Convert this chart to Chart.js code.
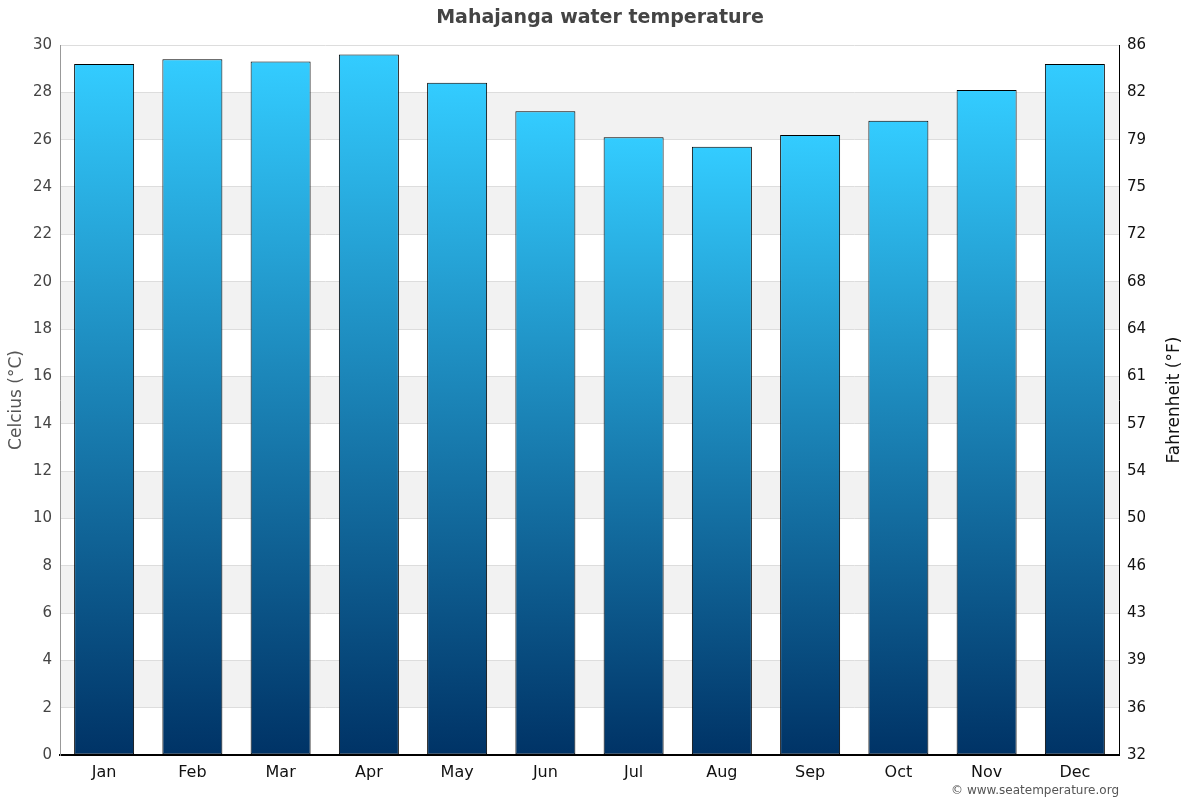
<!DOCTYPE html>
<html>
<head>
<meta charset="utf-8">
<script src="https://cdn.jsdelivr.net/npm/chart.js@4/dist/chart.umd.min.js"></script>
<style>
  html, body { margin: 0; padding: 0; background: #fff; }
  #wrap { width: 1200px; height: 800px; }
</style>
</head>
<body>
<div id="wrap"><canvas id="waterChart" width="1200" height="800"></canvas></div>
<script>
  const months = ["Jan", "Feb", "Mar", "Apr", "May", "Jun", "Jul", "Aug", "Sep", "Oct", "Nov", "Dec"];
  const waterTempC = [29.2, 29.4, 29.3, 29.6, 28.4, 27.2, 26.1, 25.7, 26.2, 26.8, 28.1, 29.2];
  const celsiusTicks = [0, 2, 4, 6, 8, 10, 12, 14, 16, 18, 20, 22, 24, 26, 28, 30];
  const fahrenheitTicks = [32, 36, 39, 43, 46, 50, 54, 57, 61, 64, 68, 72, 75, 79, 82, 86];

  const FONT = "'DejaVu Sans', sans-serif";

  // gradient per bar, bright at the top, dark navy at the base
  function barGradient(c) {
    const chart = c.chart;
    if (!chart.chartArea) return "#1a8ac4";
    const y = chart.scales.y;
    const top = y.getPixelForValue(waterTempC[c.dataIndex]);
    const bottom = y.getPixelForValue(0);
    const g = chart.ctx.createLinearGradient(0, top, 0, bottom);
    g.addColorStop(0, "#33ccff");
    g.addColorStop(1, "#003366");
    return g;
  }

  const bandsPlugin = {
    id: "bands",
    beforeDraw(chart) {
      const { ctx, chartArea, scales } = chart;
      ctx.save();
      ctx.fillStyle = "#fff";
      ctx.fillRect(0, 0, chart.width, chart.height);
      ctx.fillStyle = "#f2f2f2";
      for (let i = 1; i < celsiusTicks.length - 1; i += 2) {
        const y1 = scales.y.getPixelForValue(celsiusTicks[i]);
        const y2 = scales.y.getPixelForValue(celsiusTicks[i + 1]);
        ctx.fillRect(chartArea.left, y2, chartArea.right - chartArea.left, y1 - y2);
      }
      ctx.restore();
    },
    afterDraw(chart) {
      const { ctx, chartArea } = chart;
      ctx.save();
      // right axis title, reading bottom to top
      ctx.translate(1175, (chartArea.top + chartArea.bottom) / 2);
      ctx.rotate(-Math.PI / 2);
      ctx.font = "17px " + FONT;
      ctx.fillStyle = "#111";
      ctx.textAlign = "center";
      ctx.textBaseline = "middle";
      ctx.fillText("Fahrenheit (°F)", 0, 0);
      ctx.restore();

      ctx.save();
      ctx.font = "12px " + FONT;
      ctx.fillStyle = "#555";
      ctx.textAlign = "right";
      ctx.textBaseline = "middle";
      ctx.fillText("© www.seatemperature.org", chartArea.right, 791);
      ctx.restore();
    }
  };

  new Chart(document.getElementById("waterChart"), {
    type: "bar",
    data: {
      labels: months,
      datasets: [{
        label: "Water temperature",
        data: waterTempC,
        backgroundColor: barGradient,
        borderColor: "#000",
        borderWidth: 1,
        borderSkipped: false,
        barPercentage: 0.68,
        categoryPercentage: 1.0
      }]
    },
    options: {
      responsive: false,
      devicePixelRatio: 1,
      animation: false,
      layout: { padding: 0 },
      plugins: {
        legend: { display: false },
        tooltip: { enabled: false },
        title: {
          display: true,
          text: "Mahajanga water temperature",
          color: "#444",
          font: { family: FONT, size: 19, weight: "bold" },
          padding: { top: 7, bottom: 15.2 }
        }
      },
      scales: {
        x: {
          grid: { display: false, drawTicks: false },
          border: { display: true, color: "#000", width: 2 },
          ticks: { color: "#111", font: { family: FONT, size: 16 }, padding: 8 },
          afterFit: s => { s.height = 45; }
        },
        y: {
          position: "left",
          min: 0,
          max: 30,
          ticks: { stepSize: 2, color: "#444", font: { family: FONT, size: 15 }, padding: 8 },
          grid: { color: "#dddddd", drawTicks: false },
          border: { display: true, color: "#999", width: 1 },
          title: {
            display: true,
            text: "Celcius (°C)",
            color: "#555",
            font: { family: FONT, size: 17 },
            padding: { top: 6, bottom: 0 }
          },
          afterFit: s => { s.width = 60; }
        },
        y2: {
          display: true,
          position: "right",
          min: 0,
          max: 30,
          ticks: {
            stepSize: 2,
            color: "#111",
            font: { family: FONT, size: 15 },
            padding: 8,
            callback: (v, i) => fahrenheitTicks[i]
          },
          grid: { display: false, drawTicks: false },
          border: { display: true, color: "#000", width: 1 },
          afterFit: s => { s.width = 81; }
        }
      }
    },
    plugins: [bandsPlugin]
  });
</script>
</body>
</html>
